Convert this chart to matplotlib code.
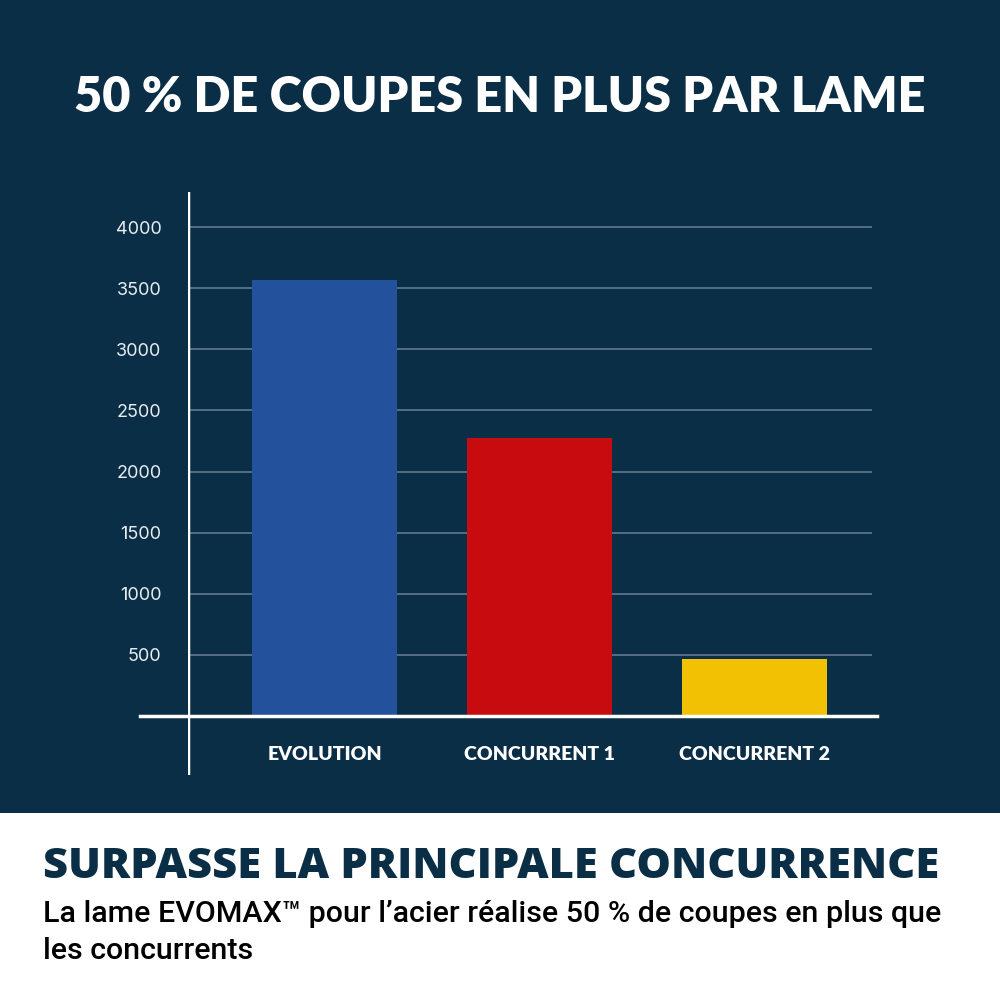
import matplotlib
matplotlib.use("Agg")
import matplotlib.pyplot as plt

categories = ["EVOLUTION", "CONCURRENT 1", "CONCURRENT 2"]
coupes = [3570, 2275, 465]
bar_colors = ["#23519c", "#c80b0e", "#f3c104"]
y_ticks = [500, 1000, 1500, 2000, 2500, 3000, 3500, 4000]

navy = "#0a2e45"

fig = plt.figure(figsize=(10, 10), dpi=100)
fig.patch.set_facecolor("white")

# fond bleu marine en haut
fond = fig.add_axes([0, 1 - 813 / 1000, 1, 813 / 1000])
fond.set_facecolor(navy)
fond.set_xticks([])
fond.set_yticks([])
for s in fond.spines.values():
    s.set_visible(False)

# axes du graphique (pixels : gauche 188, droite 872, haut 192, bas 775)
ax = fig.add_axes([188 / 1000, 1 - 775 / 1000, (872 - 188) / 1000, (775 - 192) / 1000])
ax.set_facecolor("none")
x = list(range(len(categories)))
ax.bar(x, coupes, width=0.674, color=bar_colors, zorder=3)
ax.set_xlim(-0.635, 2.547)
ax.set_ylim(-483, 4288)
for s in ax.spines.values():
    s.set_visible(False)
ax.axvline(-0.635, color="white", lw=2.5, zorder=4)
ax.plot([-0.858, 2.570], [0, 0], color="white", lw=2.5, clip_on=False, zorder=4)
ax.set_yticks(y_ticks)
ax.set_yticklabels([str(v) for v in y_ticks])
ax.tick_params(axis="y", length=0, pad=19, labelcolor="#e8edf2", labelsize=13)
for lab in ax.get_yticklabels():
    lab.set_family("Inter")
ax.set_xticks([])
ax.grid(axis="y", color="#5f7a8e", lw=1.2, zorder=1)
for xi, cat in zip(x, categories):
    ax.text(xi, -315, cat, ha="center", va="center", color="white",
            fontsize=14, fontweight="heavy", family="Lato")

fig.text(0.5, 1 - 98 / 1000, "50 % DE COUPES EN PLUS PAR LAME", ha="center",
         va="center", color="white", fontsize=35, fontweight="heavy", family="Lato")

fig.text(43 / 1000, 1 - 867 / 1000, "SURPASSE LA PRINCIPALE CONCURRENCE", ha="left",
         va="center", color=navy, fontsize=31.2, fontweight="heavy", family="Open Sans")
fig.text(43 / 1000, 1 - 914 / 1000,
         "La lame EVOMAX\u2122 pour l\u2019acier réalise 50 % de coupes en plus que",
         ha="left", va="center", color="black", fontsize=21.9, fontweight="medium", family="Roboto")
fig.text(43 / 1000, 1 - 951 / 1000, "les concurrents",
         ha="left", va="center", color="black", fontsize=21.9, fontweight="medium", family="Roboto")

fig.savefig("out.png", dpi=100, facecolor=fig.get_facecolor())
